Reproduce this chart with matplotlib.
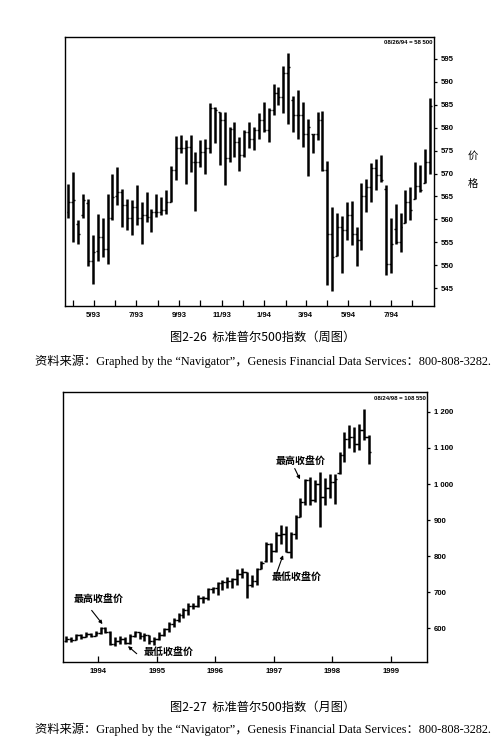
import numpy as np
import pandas as pd
import matplotlib
matplotlib.use("Agg")
import matplotlib.pyplot as plt
import matplotlib.dates as mdates

plt.rcParams['font.family'] = ['Liberation Sans', 'Noto Sans CJK SC', 'DejaVu Sans']

# weekly bars, 3/26/93 .. 8/26/94 (price scale as printed on the chart)
weeks = pd.date_range('1993-03-26', '1994-08-26', freq='7D')
w_high = [567.8, 570.4, 559.8, 565.6, 564.5, 556.5, 561.2, 560.2, 565.6, 570.0,
          571.5, 566.7, 564.5, 564.2, 567.4, 563.8, 566.0, 562.3, 565.6, 564.9,
          566.4, 571.6, 578.2, 578.5, 577.3, 578.5, 574.7, 577.4, 577.6, 585.4,
          584.6, 583.5, 583.5, 580.2, 581.3, 578.0, 579.5, 581.3, 580.2, 583.1,
          585.7, 584.2, 589.5, 588.8, 593.5, 596.4, 587.0, 588.2, 585.7, 582.0,
          578.7, 583.5, 583.6, 572.7, 562.7, 561.4, 560.7, 563.7, 564.1, 558.3,
          568.0, 568.9, 572.3, 573.1, 574.0, 567.4, 560.2, 563.4, 561.4, 566.4,
          567.1, 572.5, 571.8, 575.4, 586.5]
w_low = [560.2, 555.1, 554.7, 560.2, 549.9, 545.8, 551.0, 551.8, 550.3, 559.8,
         563.1, 558.3, 557.6, 556.5, 558.7, 554.7, 559.4, 557.2, 560.5, 560.9,
         561.2, 563.8, 568.5, 574.4, 567.7, 570.4, 561.8, 571.5, 570.0, 574.4,
         576.6, 571.8, 567.4, 572.5, 573.6, 570.6, 573.6, 575.5, 575.2, 577.6,
         579.1, 576.8, 582.8, 584.9, 583.1, 580.9, 579.1, 577.6, 575.7, 569.5,
         574.5, 577.3, 570.6, 545.6, 544.3, 552.1, 548.3, 555.4, 554.3, 549.9,
         553.4, 561.5, 563.8, 566.5, 568.2, 547.8, 548.3, 554.7, 552.9, 559.3,
         559.8, 564.5, 566.0, 568.0, 570.0]
w_open = [561.6, 563.8, 559.0, 560.9, 563.5, 551.0, 553.0, 556.1, 553.6, 560.2,
          565.0, 566.0, 563.1, 560.2, 562.7, 560.2, 560.9, 560.5, 561.6, 561.6,
          562.0, 563.8, 570.7, 575.5, 575.5, 575.8, 572.5, 572.5, 574.7, 575.5,
          584.2, 583.5, 581.7, 573.3, 579.8, 576.9, 574.0, 579.1, 577.6, 579.5,
          581.7, 579.5, 583.8, 587.6, 586.8, 591.9, 586.0, 582.8, 582.8, 578.7,
          578.6, 578.6, 581.7, 570.7, 556.9, 552.1, 558.3, 557.6, 560.9, 556.9,
          555.4, 565.2, 567.1, 571.1, 569.6, 566.7, 550.3, 558.0, 555.0, 559.3,
          563.8, 564.5, 567.2, 568.0, 572.5]
w_close = [563.8, 564.2, 556.9, 564.2, 551.0, 552.9, 556.1, 553.6, 560.2, 564.9,
           566.0, 563.1, 560.2, 562.7, 560.2, 560.9, 560.5, 561.6, 561.6, 562.0,
           563.8, 570.7, 575.5, 575.5, 575.8, 572.5, 572.5, 574.7, 575.5, 584.2,
           583.8, 581.7, 573.3, 579.8, 576.9, 574.0, 579.1, 577.6, 579.5, 581.7,
           579.5, 583.8, 587.6, 586.8, 591.9, 593.3, 582.8, 582.8, 578.7, 580.2,
           578.6, 581.7, 570.7, 556.9, 551.8, 558.3, 557.6, 560.9, 556.9, 555.4,
           565.2, 567.1, 571.1, 569.6, 568.5, 550.3, 554.7, 555.0, 558.3, 563.8,
           562.0, 567.2, 566.4, 572.5, 584.8]
w_ticks = pd.date_range('1993-04-01', '1994-08-01', freq='MS')
w_tick_labels = ['', '5/93', '', '7/93', '', '9/93', '', '11/93', '', '1/94',
                 '', '3/94', '', '5/94', '', '7/94', '']
w_yticks = [545, 550, 555, 560, 565, 570, 575, 580, 585, 590, 595]

# monthly bars, 6/93 .. 8/98
months = pd.date_range('1993-06-01', '1998-08-01', freq='MS')
m_high = [578.9, 575.2, 584.4, 585.0, 590.9, 588.0, 592.0, 604.7, 603.0, 592.0,
          575.0, 578.9, 577.0, 585.0, 593.6, 590.0, 586.0, 583.0, 575.0,
          590.8, 601.9, 618.5, 627.7, 641.6, 655.4, 669.3, 669.3, 692.4, 690.0, 710.8, 715.4,
          729.0, 733.9, 743.0, 738.5, 766.0, 768.0, 757.0, 747.7, 768.0, 786.5, 840.0, 835.4,
          868.0, 886.0, 884.0, 868.0, 914.0, 962.0, 1013.6, 1020.0, 1010.8, 1033.9, 1017.0, 1029.0,
          1029.0, 1089.0, 1144.6, 1163.0, 1158.5, 1165.0, 1207.4, 1135.4]
m_low = [563.2, 563.2, 567.8, 572.0, 575.2, 577.0, 580.0, 584.0, 586.0, 553.0,
         552.0, 558.0, 556.0, 558.0, 575.0, 570.0, 565.0, 556.0, 553.0,
         567.8, 579.7, 590.8, 604.7, 616.6, 627.7, 637.0, 653.6, 660.0, 669.3, 678.5, 697.0,
         692.0, 706.2, 710.8, 710.8, 720.0, 738.5, 683.0, 715.4, 720.0, 766.0, 784.6, 784.6,
         812.0, 832.6, 812.0, 794.0, 849.0, 909.0, 941.6, 941.6, 950.8, 881.6, 941.6, 960.0,
         946.0, 1029.0, 1061.6, 1098.5, 1089.0, 1093.8, 1121.6, 1056.9]
m_open = [566, 570, 568, 581, 576, 585, 580, 586, 602, 590,
          556, 566, 570, 559, 578, 590, 578, 583, 566,
          570, 582, 599, 612, 624, 638, 650, 662, 663, 685, 683, 708,
          712, 727, 728, 732, 736, 752, 756, 720, 732, 766, 786, 834,
          814, 860, 862, 812, 862, 910, 950, 1010, 955, 1000, 965, 990,
          1005, 1030, 1080, 1125, 1130, 1110, 1150, 1130]
m_close = [570, 568, 581, 576, 585, 580, 586, 602, 590, 556,
           566, 570, 559, 578, 590, 578, 583, 566, 570,
           582, 599, 612, 624, 638, 650, 662, 663, 685, 683, 708, 712,
           727, 728, 732, 736, 752, 756, 720, 732, 766, 780, 834, 814,
           860, 862, 812, 862, 908, 950, 1010, 955, 1000, 965, 990, 1005,
           1015, 1080, 1125, 1130, 1110, 1150, 1130, 1089]
m_years = [1994, 1995, 1996, 1997, 1998, 1999]
m_yticks = [600, 700, 800, 900, 1000, 1100, 1200]
m_ytick_labels = ['600', '700', '800', '900', '1 000', '1 100', '1 200']

tick_font = dict(fontsize=5.6, fontweight='bold')
cjk = ['Noto Sans CJK SC', 'DejaVu Sans']
src_font = ['Liberation Serif', 'Noto Sans CJK SC']
source = '资料来源：Graphed by the “Navigator”，Genesis Financial Data Services：800-808-3282.'


def draw_bars(ax, x, o, h, l, c, dx):
    x = np.asarray(x)
    ax.vlines(x, l, h, color='black', lw=1.8)
    ax.hlines(o, x - dx, x, color='black', lw=1.0)
    ax.hlines(c, x, x + dx, color='black', lw=1.0)


def style_axes(ax):
    for s in ax.spines.values():
        s.set_linewidth(1.0)
    ax.yaxis.tick_right()
    ax.tick_params(axis='x', direction='in', length=4, width=0.9, pad=4)
    ax.tick_params(axis='y', direction='out', length=2, width=0.9, pad=3)


fig = plt.figure(figsize=(4.96, 7.54), dpi=100)

# weekly chart
ax1 = fig.add_axes([0.1310, 0.5942, 0.7440, 0.3568])
xw = mdates.date2num(weeks)
draw_bars(ax1, xw, w_open, w_high, w_low, w_close, 2.8)
ax1.set_xlim(mdates.date2num(pd.Timestamp('1993-03-21')),
             mdates.date2num(pd.Timestamp('1994-09-01')))
ax1.set_ylim(541.1, 599.8)
ax1.set_xticks(mdates.date2num(w_ticks))
ax1.set_xticklabels(w_tick_labels, **tick_font)
ax1.set_yticks(w_yticks)
ax1.set_yticklabels([str(v) for v in w_yticks], **tick_font)
style_axes(ax1)
ax1.text(0.997, 0.988, '08/26/94 = 58 500', transform=ax1.transAxes,
         ha='right', va='top', fontsize=4.3, fontweight='bold')

fig.text(0.954, 1 - 156 / 754, '价', family=cjk, fontsize=7.5, ha='center', va='center')
fig.text(0.954, 1 - 184 / 754, '格', family=cjk, fontsize=7.5, ha='center', va='center')

fig.text(0.530, 1 - 337 / 754, '图2-26  标准普尔500指数（周图）', family=cjk,
         fontsize=8.8, fontweight='medium', ha='center', va='center')
fig.text(0.070, 1 - 361 / 754, source, family=src_font, fontsize=8.85,
         ha='left', va='center')

# monthly chart
ax2 = fig.add_axes([0.1270, 0.1220, 0.7339, 0.3581])
xm = months.year + (months.month - 0.5) / 12
draw_bars(ax2, xm, m_open, m_high, m_low, m_close, 0.045)
ax2.set_xlim(1993.40, 1999.62)
ax2.set_ylim(507, 1255)
ax2.set_xticks(m_years)
ax2.set_xticklabels([str(y) for y in m_years], **tick_font)
ax2.set_yticks(m_yticks)
ax2.set_yticklabels(m_ytick_labels, **tick_font)
style_axes(ax2)
ax2.text(0.997, 0.985, '08/24/98 = 108 550', transform=ax2.transAxes,
         ha='right', va='top', fontsize=4.3, fontweight='bold')

note = dict(family=cjk, fontsize=7.2, fontweight='bold')
arrow = dict(arrowstyle='-|>', color='black', lw=0.8, mutation_scale=5,
             shrinkA=0, shrinkB=0)
ax2.text(1994.01, 678, '最高收盘价', ha='center', va='center', **note)
ax2.annotate('', xy=(1994.075, 612), xytext=(1993.89, 650), arrowprops=arrow)
ax2.text(1994.77, 531, '最低收盘价', ha='left', va='center', **note)
ax2.annotate('', xy=(1994.51, 551), xytext=(1994.66, 530), arrowprops=arrow)
ax2.text(1997.04, 1061, '最高收盘价', ha='left', va='center', **note)
ax2.annotate('', xy=(1997.45, 1013), xytext=(1997.36, 1043), arrowprops=arrow)
ax2.text(1996.96, 739, '最低收盘价', ha='left', va='center', **note)
ax2.annotate('', xy=(1997.16, 803), xytext=(1997.05, 753), arrowprops=arrow)

fig.text(0.530, 1 - 707 / 754, '图2-27  标准普尔500指数（月图）', family=cjk,
         fontsize=8.8, fontweight='medium', ha='center', va='center')
fig.text(0.070, 1 - 729 / 754, source, family=src_font, fontsize=8.85,
         ha='left', va='center')

fig.savefig('out.png', dpi=100)
